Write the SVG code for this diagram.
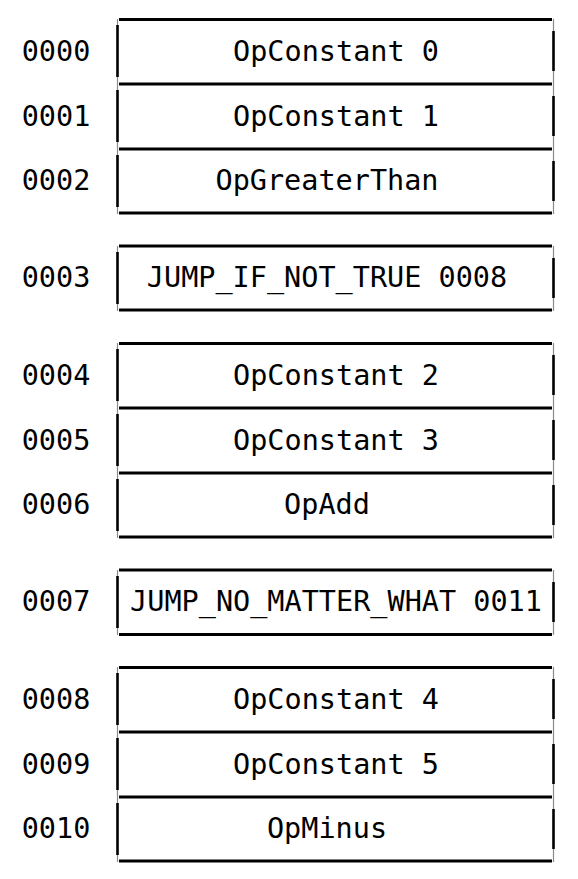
<svg xmlns="http://www.w3.org/2000/svg" width="578" height="879" viewBox="0 0 578 879">
  <style>
    .addr { font-family: "DejaVu Sans Mono", "Liberation Mono", monospace; font-size: 28.5px; fill: #000; text-anchor: middle; }
    .op { font-family: "DejaVu Sans Mono", "Liberation Mono", monospace; font-size: 28.5px; fill: #000; text-anchor: middle; }
    .hline { stroke: #000; stroke-width: 3; fill: none; }
    .side { stroke: #8a8a8a; stroke-width: 1.2; fill: none; }
    .sideInk { stroke: #000; stroke-width: 2.6; fill: none; }
  </style>
  <defs>
    <!-- one instruction cell, 437 x 65, drawn with a slightly uneven pen -->
    <g id="cellSides">
      <line class="side" x1="117.5" y1="0" x2="117.5" y2="65"/>
      <line class="side" x1="553.5" y1="0" x2="553.5" y2="65"/>
      <line class="sideInk" x1="117.5" y1="6" x2="117.5" y2="58"/>
      <line class="sideInk" x1="553.5" y1="12" x2="553.5" y2="52"/>
    </g>
  </defs>
  <rect width="578" height="879" fill="#fff"/>

  <!-- block 1 -->
  <g id="row0000">
    <use href="#cellSides" y="19"/>
    <text class="addr" x="56" y="61">0000</text>
    <text class="op" x="336" y="61">OpConstant 0</text>
  </g>
  <g id="row0001">
    <use href="#cellSides" y="84"/>
    <text class="addr" x="56" y="126">0001</text>
    <text class="op" x="336" y="126">OpConstant 1</text>
  </g>
  <g id="row0002">
    <use href="#cellSides" y="149"/>
    <text class="addr" x="56" y="190">0002</text>
    <text class="op" x="327" y="190">OpGreaterThan</text>
  </g>
  <g id="block1Lines">
    <line class="hline" x1="119" y1="19.5" x2="552" y2="19.5"/>
    <line class="hline" x1="119" y1="84" x2="552" y2="84"/>
    <line class="hline" x1="119" y1="149" x2="552" y2="149"/>
    <line class="hline" x1="119" y1="213" x2="552" y2="213"/>
  </g>

  <!-- block 2 -->
  <g id="row0003">
    <use href="#cellSides" y="246"/>
    <line class="hline" x1="119" y1="246" x2="552" y2="246"/>
    <line class="hline" x1="119" y1="310" x2="552" y2="310"/>
    <text class="addr" x="56" y="287">0003</text>
    <text class="op" x="327" y="287">JUMP_IF_NOT_TRUE 0008</text>
  </g>

  <!-- block 3 -->
  <g id="row0004">
    <use href="#cellSides" y="343"/>
    <text class="addr" x="56" y="385">0004</text>
    <text class="op" x="336" y="385">OpConstant 2</text>
  </g>
  <g id="row0005">
    <use href="#cellSides" y="408"/>
    <text class="addr" x="56" y="450">0005</text>
    <text class="op" x="336" y="450">OpConstant 3</text>
  </g>
  <g id="row0006">
    <use href="#cellSides" y="473"/>
    <text class="addr" x="56" y="514">0006</text>
    <text class="op" x="327" y="514">OpAdd</text>
  </g>
  <g id="block3Lines">
    <line class="hline" x1="119" y1="343.5" x2="552" y2="343.5"/>
    <line class="hline" x1="119" y1="408" x2="552" y2="408"/>
    <line class="hline" x1="119" y1="473" x2="552" y2="473"/>
    <line class="hline" x1="119" y1="537" x2="552" y2="537"/>
  </g>

  <!-- block 4 -->
  <g id="row0007">
    <use href="#cellSides" y="570"/>
    <line class="hline" x1="119" y1="570" x2="552" y2="570"/>
    <line class="hline" x1="119" y1="634.5" x2="552" y2="634.5"/>
    <text class="addr" x="56" y="611">0007</text>
    <text class="op" x="336" y="611">JUMP_NO_MATTER_WHAT 0011</text>
  </g>

  <!-- block 5 -->
  <g id="row0008">
    <use href="#cellSides" y="667"/>
    <text class="addr" x="56" y="709">0008</text>
    <text class="op" x="336" y="709">OpConstant 4</text>
  </g>
  <g id="row0009">
    <use href="#cellSides" y="732"/>
    <text class="addr" x="56" y="774">0009</text>
    <text class="op" x="336" y="774">OpConstant 5</text>
  </g>
  <g id="row0010">
    <use href="#cellSides" y="797"/>
    <text class="addr" x="56" y="838">0010</text>
    <text class="op" x="327" y="838">OpMinus</text>
  </g>
  <g id="block5Lines">
    <line class="hline" x1="119" y1="667.5" x2="552" y2="667.5"/>
    <line class="hline" x1="119" y1="732" x2="552" y2="732"/>
    <line class="hline" x1="119" y1="797" x2="552" y2="797"/>
    <line class="hline" x1="119" y1="861" x2="552" y2="861"/>
  </g>
</svg>
